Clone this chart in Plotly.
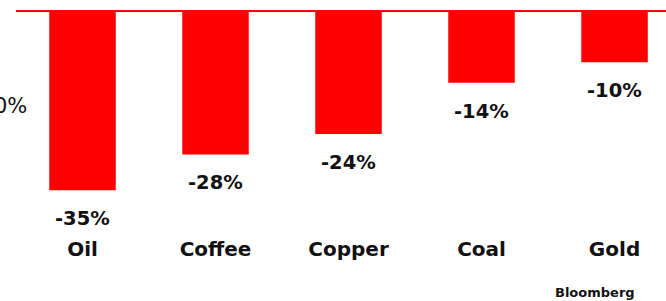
import plotly.graph_objects as go

categories = ["Oil", "Coffee", "Copper", "Coal", "Gold"]
values = [-35, -28, -24, -14, -10]
value_labels = ["-35%", "-28%", "-24%", "-14%", "-10%"]

FONT = "DejaVu Sans"
fig = go.Figure()
fig.add_trace(go.Bar(
    x=categories, y=values, width=0.5,
    marker=dict(color="#FF0000", line=dict(width=0)),
    hoverinfo="skip",
))

for c, v, t in zip(categories, values, value_labels):
    fig.add_annotation(x=c, y=v, text=t, showarrow=False, yanchor="top", yshift=-15,
                       font=dict(family=FONT, size=19.5, color="#111111", weight="bold"))

fig.add_annotation(xref="paper", yref="y", x=0.02, y=-18.5, text="-20%", xanchor="right",
                   showarrow=False, font=dict(family=FONT, size=21, color="#111111"))
fig.add_annotation(xref="paper", yref="paper", x=0.891, y=-0.292, text="Bloomberg",
                   showarrow=False, xanchor="center", yanchor="middle",
                   font=dict(family=FONT, size=13, color="#111111", weight="bold"))

fig.update_layout(
    width=666, height=301,
    margin=dict(l=16, r=0, t=10, b=72, pad=0),
    paper_bgcolor="white", plot_bgcolor="white",
    showlegend=False,
    xaxis=dict(range=[-0.5, 4.387], showgrid=False, showline=False, ticks="",
               tickfont=dict(family=FONT, size=20, color="#111111", weight="bold"),
               ticklabelstandoff=6),
    yaxis=dict(range=[-42.57, 0.2], showgrid=False, showticklabels=False,
               zeroline=True, zerolinecolor="#FF0000", zerolinewidth=2, showline=False),
)
fig.write_html("out.html", config={"displayModeBar": False},
               post_script="document.body.style.margin='0';")
